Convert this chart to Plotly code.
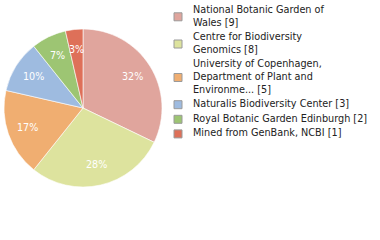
import math
import plotly.graph_objects as go

legend_lines = [
    ["National Botanic Garden of", "Wales [9]"],
    ["Centre for Biodiversity", "Genomics [8]"],
    ["University of Copenhagen,", "Department of Plant and", "Environme... [5]"],
    ["Naturalis Biodiversity Center [3]"],
    ["Royal Botanic Garden Edinburgh [2]"],
    ["Mined from GenBank, NCBI [1]"],
]
labels = [" ".join(l) for l in legend_lines]
values = [9, 8, 5, 3, 2, 1]
pct_text = ["32%", "28%", "17%", "10%", "7%", "3%"]
colors = ["#e0a59d", "#dde39e", "#f0ae71", "#9ebbe0", "#9dc573", "#de7059"]

W, H = 380, 240
cx, cy, r = 83, 108, 79  # pie centre / radius in pixels

fig = go.Figure(go.Pie(
    labels=labels,
    values=values,
    textinfo="none",
    marker=dict(colors=colors, line=dict(color="white", width=0.6)),
    sort=False,
    direction="clockwise",
    rotation=0,
    domain=dict(x=[(cx - r) / W, (cx + r) / W], y=[(H - cy - r) / H, (H - cy + r) / H]),
    hoverinfo="skip",
    showlegend=False,
))

annotations = []
shapes = []

# percentage labels along slice bisectors
total = sum(values)
cum = 0
for v, t in zip(values, pct_text):
    mid = (cum + v / 2) / total * 2 * math.pi
    cum += v
    px = cx + 0.74 * r * math.sin(mid)
    py = cy - 0.74 * r * math.cos(mid)
    annotations.append(dict(
        x=px / W, y=1 - py / H, xref="paper", yref="paper",
        text=t, showarrow=False, xanchor="center", yanchor="middle",
        font=dict(family="DejaVu Sans", size=9.6, color="white"),
    ))

# legend
line_h = 12.6
gap = 2
y = 9.5
sq = 8
for lines, col in zip(legend_lines, colors):
    first = y
    for ln in lines:
        annotations.append(dict(
            x=191 / W, y=1 - y / H, xref="paper", yref="paper",
            text=ln, showarrow=False, xanchor="left", yanchor="middle",
            font=dict(family="DejaVu Sans", size=9.7, color="#222222"),
        ))
        y += line_h
    mid = (first + y - line_h) / 2 + 1
    shapes.append(dict(
        type="rect", xref="paper", yref="paper",
        x0=174 / W, x1=(174 + sq) / W,
        y0=1 - (mid - sq / 2) / H, y1=1 - (mid + sq / 2) / H,
        fillcolor=col, line=dict(color="#9a9a9a", width=1),
    ))
    y += gap

fig.update_layout(
    width=W, height=H,
    margin=dict(l=0, r=0, t=0, b=0),
    paper_bgcolor="white",
    plot_bgcolor="white",
    showlegend=False,
    annotations=annotations,
    shapes=shapes,
)

fig.write_html("out.html")
